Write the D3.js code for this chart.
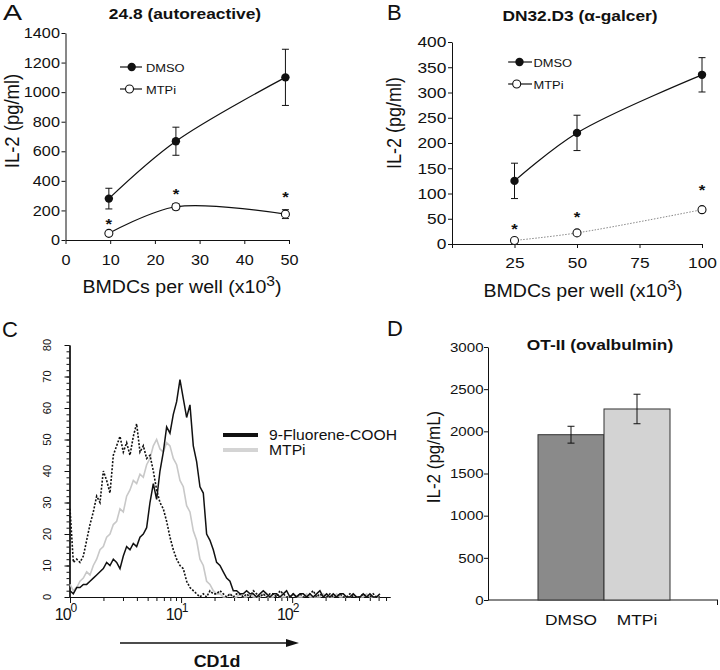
<!DOCTYPE html>
<html>
<head>
<meta charset="utf-8">
<title>IL-2 and CD1d panels</title>
<script src="https://cdn.jsdelivr.net/npm/d3@7/dist/d3.min.js"></script>
<style>
  body { margin: 0; background: #fff; }
</style>
</head>
<body>
<div id="chart"></div>
<script>
// ---------- data ----------

// A: 24.8 (autoreactive)
const aDoses = [9.7, 24.7, 49.2];
const aDmso = [280, 668, 1100];
const aDmsoErr = [70, 95, 190];
const aMtpi = [45, 225, 175];
const aMtpiErr = [12, 20, 30];
const aStars = [135, 340, 318];
const aXTicks = [0, 10, 20, 30, 40, 50];
const aYTicks = [0, 200, 400, 600, 800, 1000, 1200, 1400];

// B: DN32.D3 (alpha-galcer)
const bDoses = [25, 50, 100];
const bDmso = [125, 220, 335];
const bDmsoErr = [35, 35, 34];
const bMtpi = [7, 22, 68];
const bStars = [38, 61, 114];
const bXTicks = [0, 25, 50, 75, 100];
const bYTicks = [0, 50, 100, 150, 200, 250, 300, 350, 400];

// C: CD1d histograms (channel position in log10 units, counts)
const cdLog = [0, 0.03, 0.06, 0.09, 0.12, 0.15, 0.18, 0.21, 0.24, 0.27,
  0.3, 0.33, 0.36, 0.39, 0.42, 0.45, 0.48, 0.51, 0.54, 0.57,
  0.6, 0.63, 0.66, 0.69, 0.72, 0.75, 0.78, 0.81, 0.84, 0.87,
  0.9, 0.93, 0.96, 0.99, 1.02, 1.05, 1.08, 1.11, 1.14, 1.17,
  1.2, 1.23, 1.26, 1.29, 1.32, 1.35, 1.38, 1.41, 1.44, 1.47,
  1.5, 1.53, 1.56, 1.59, 1.62, 1.65, 1.68, 1.71, 1.74, 1.77,
  1.8, 1.83, 1.86, 1.89, 1.92, 1.95, 1.98, 2.01, 2.04, 2.07,
  2.1, 2.13, 2.16, 2.19, 2.22, 2.25, 2.28, 2.31, 2.34, 2.37,
  2.4, 2.43, 2.46, 2.49, 2.52, 2.55, 2.58, 2.61, 2.64, 2.67,
  2.7, 2.73, 2.76, 2.79];
const cdIsotype = [28, 11, 12, 11, 13, 18, 23, 27, 32, 30,
  40, 37, 33, 45, 48, 51, 46, 49, 45, 51,
  55, 46, 48, 44, 45, 40, 34, 30, 28, 24,
  19, 15, 12, 10, 9, 5, 3, 2, 1, 0,
  1, 0, 2, 1, 1, 2, 1, 0, 1, 0,
  1, 1, 0, 1, 0, 2, 1, 0, 1, 0,
  1, 1, 0, 2, 1, 0, 0, 1, 0, 1,
  0, 0, 1, 2, 0, 1, 0, 0, 1, 0,
  0, 1, 0, 0, 1, 0, 0, 0, 1, 0,
  0, 1, 0, 0];
const cdFluorene = [2, 1, 3, 3, 4, 4, 5, 6, 7, 8,
  9, 11, 10, 12, 11, 9, 13, 16, 15, 17,
  16, 19, 20, 22, 30, 36, 31, 40, 46, 54,
  52, 58, 62, 69, 63, 57, 61, 48, 43, 35,
  33, 20, 18, 15, 11, 10, 8, 6, 5, 2,
  2, 1, 1, 2, 1, 1, 0, 1, 2, 1,
  0, 1, 1, 0, 1, 2, 0, 1, 0, 1,
  1, 0, 1, 0, 1, 2, 0, 1, 0, 1,
  0, 1, 1, 0, 0, 1, 0, 0, 1, 0,
  1, 0, 0, 1];
const cdMtpi = [4, 2, 3, 5, 6, 8, 7, 10, 12, 15,
  16, 19, 20, 23, 24, 28, 27, 32, 34, 37,
  36, 39, 38, 42, 44, 48, 50, 47, 46, 49,
  48, 44, 42, 37, 35, 29, 27, 21, 18, 12,
  10, 5, 4, 2, 1, 1, 0, 0, 1, 0,
  0, 1, 0, 0, 1, 0, 0, 0, 1, 0,
  0, 0, 1, 0, 0, 0, 0, 1, 0, 0,
  0, 1, 0, 0, 0, 0, 1, 0, 0, 0,
  1, 0, 0, 0, 0, 1, 0, 0, 0, 1,
  0, 0, 0, 0];
const cdYTicks = [0, 10, 20, 30, 40, 50, 60, 70, 80];
const cdDecades = [1, 10, 100];
const cdDecadeExp = ["0", "1", "2"];

// D: OT-II (ovalbulmin)
const dGroups = ["DMSO", "MTPi"];
const dValues = [1960, 2265];
const dErr = [100, 175];
const dYTicks = [0, 500, 1000, 1500, 2000, 2500, 3000];

// ---------- setup ----------
const FONT = '"Liberation Sans", Arial, Helvetica, sans-serif';
const SX = 1.12;   // the scanned figure is a bit wider than tall
const INK = "#111";
const plain = d3.format("d");

const svg = d3.select("#chart").append("svg")
  .attr("width", 720)
  .attr("height", 670)
  .style("font-family", FONT);

// text with the slight horizontal stretch of the source
function label(x, y, str, size, o = {}) {
  const sx = o.sx || SX;
  return svg.append("text")
    .attr("transform", `translate(${x},${y}) scale(${sx},1)` + (o.rot ? ` rotate(${o.rot})` : ""))
    .attr("font-size", size)
    .attr("font-weight", o.bold ? "bold" : "normal")
    .attr("text-anchor", o.anchor || "middle")
    .attr("fill", o.fill || INK)
    .text(str);
}

function supLabel(x, y, base, sup, tail, size, supSize, lift, o = {}) {
  const t = label(x, y, "", size, o);
  t.append("tspan").text(base);
  t.append("tspan").attr("font-size", supSize).attr("dy", -lift).text(sup);
  if (tail) t.append("tspan").attr("dy", lift).text(tail);
  return t;
}

function styleAxis(g, size) {
  g.attr("font-family", FONT).attr("font-size", size);
  g.selectAll("path, line").attr("stroke", INK).attr("stroke-width", 1);
  g.selectAll("text").attr("fill", INK).attr("transform", `scale(${SX},1)`);
}

// ---------- A and B: dose curves ----------
function dosePanel(p) {
  const x = d3.scaleLinear().domain(p.xDomain).range(p.xRange);
  const y = d3.scaleLinear().domain(p.yDomain).range(p.yRange);

  svg.append("g")
    .attr("transform", `translate(0,${p.yRange[0]})`)
    .call(d3.axisBottom(x).tickValues(p.xTicks).tickSize(4).tickSizeOuter(0)
      .tickPadding(p.xPad).tickFormat(d => p.xLabels ? p.xLabels(d) : plain(d)))
    .call(g => styleAxis(g, p.tickSize));

  svg.append("g")
    .attr("transform", `translate(${p.xRange[0]},0)`)
    .call(d3.axisLeft(y).tickValues(p.yTicks).tickSize(4).tickSizeOuter(0)
      .tickPadding(1).tickFormat(plain))
    .call(g => styleAxis(g, p.tickSize));

  const line = d3.line()
    .x((d, i) => x(p.doses[i]))
    .y(d => y(d))
    .curve(d3.curveCatmullRom.alpha(0.5));

  svg.append("path").attr("d", line(p.dmso))
    .attr("fill", "none").attr("stroke", INK).attr("stroke-width", 1.2);
  svg.append("path").attr("d", line(p.mtpi))
    .attr("fill", "none")
    .attr("stroke", p.mtpiDotted ? "#888" : INK)
    .attr("stroke-width", p.mtpiDotted ? 1 : 1.2)
    .attr("stroke-dasharray", p.mtpiDotted ? "1.5,1.5" : null);

  // error bars
  const bars = [];
  p.doses.forEach((d, i) => {
    bars.push([d, p.dmso[i], p.dmsoErr[i]]);
    if (p.mtpiErr) bars.push([d, p.mtpi[i], p.mtpiErr[i]]);
  });
  bars.forEach(([d, v, e]) => {
    const cxp = x(d);
    svg.append("line").attr("x1", cxp).attr("x2", cxp)
      .attr("y1", y(v - e)).attr("y2", y(v + e)).attr("stroke", INK);
    [v - e, v + e].forEach(c => {
      svg.append("line").attr("x1", cxp - 3.5).attr("x2", cxp + 3.5)
        .attr("y1", y(c)).attr("y2", y(c)).attr("stroke", INK);
    });
  });

  // markers
  svg.selectAll(null).data(p.dmso).enter().append("circle")
    .attr("cx", (d, i) => x(p.doses[i])).attr("cy", d => y(d)).attr("r", 4.2)
    .attr("fill", INK);
  svg.selectAll(null).data(p.mtpi).enter().append("circle")
    .attr("cx", (d, i) => x(p.doses[i])).attr("cy", d => y(d)).attr("r", 4)
    .attr("fill", "#fff").attr("stroke", INK).attr("stroke-width", 1.1);

  // significance stars
  p.stars.forEach((s, i) => label(x(p.doses[i]), y(s) + 9, "*", 15, { bold: true }));

  // legend
  const lg = p.legend;
  svg.append("line").attr("x1", lg.x1).attr("x2", lg.x2).attr("y1", lg.y1).attr("y2", lg.y1)
    .attr("stroke", INK).attr("stroke-width", 1.2);
  svg.append("circle").attr("cx", lg.m1).attr("cy", lg.y1).attr("r", 4.2).attr("fill", INK);
  label(lg.tx, lg.y1 + 5, "DMSO", 11.5, { anchor: "start" });
  svg.append("line").attr("x1", lg.x1).attr("x2", lg.x2).attr("y1", lg.y2).attr("y2", lg.y2)
    .attr("stroke", INK).attr("stroke-width", 1.2);
  svg.append("circle").attr("cx", lg.m2).attr("cy", lg.y2).attr("r", 4)
    .attr("fill", "#fff").attr("stroke", INK).attr("stroke-width", 1.1);
  label(lg.tx, lg.y2 + 5, "MTPi", 11.5, { anchor: "start" });

  // titles
  label(p.title.x, p.title.y, p.title.text, 15.5, { bold: true });
  supLabel(p.xTitle.x, p.xTitle.y, "BMDCs per well (x10", "3", ")", 17.5, 14, 7);
  label(p.yTitle.x, p.yTitle.y, "IL-2 (pg/ml)", p.yTitle.size, { rot: -90 });
}

dosePanel({
  xDomain: [0, 50], xRange: [65.5, 289], yDomain: [0, 1400], yRange: [240, 33],
  xTicks: aXTicks, yTicks: aYTicks, tickSize: 14.5, xPad: 11,
  doses: aDoses, dmso: aDmso, dmsoErr: aDmsoErr, mtpi: aMtpi, mtpiErr: aMtpiErr,
  stars: aStars,
  legend: { x1: 120, x2: 142, y1: 67, y2: 89, m1: 131.7, m2: 129.5, tx: 146 },
  title: { x: 185, y: 19, text: "24.8 (autoreactive)" },
  xTitle: { x: 182, y: 293 },
  yTitle: { x: 19, y: 121, size: 18.5 }
});

dosePanel({
  xDomain: [0, 100], xRange: [452, 702], yDomain: [0, 400], yRange: [244, 42],
  xTicks: bXTicks, yTicks: bYTicks, tickSize: 15.5, xPad: 9,
  xLabels: d => d === 0 ? "" : d,
  doses: bDoses, dmso: bDmso, dmsoErr: bDmsoErr, mtpi: bMtpi, mtpiErr: null,
  mtpiDotted: true, stars: bStars,
  legend: { x1: 508, x2: 532, y1: 62, y2: 84, m1: 519.5, m2: 516.7, tx: 533.5 },
  title: { x: 580, y: 21, text: "DN32.D3 (\u03B1-galcer)" },
  xTitle: { x: 583, y: 297 },
  yTitle: { x: 401, y: 123, size: 18 }
});

// ---------- C: CD1d histograms ----------
const cx = d3.scaleLog().domain([1, 760]).range([70, 390]);
const cy = d3.scaleLinear().domain([0, 80]).range([597, 345]);

const minorX = [];
cdDecades.forEach(dec => [2, 3, 4, 5, 6, 7, 8, 9].forEach(k => { if (dec * k <= 760) minorX.push(dec * k); }));

svg.append("g").attr("transform", "translate(0,597)")
  .call(d3.axisBottom(cx).tickValues(minorX).tickSize(4).tickSizeOuter(0).tickFormat(""))
  .call(g => styleAxis(g, 11));
svg.append("g").attr("transform", "translate(0,597)")
  .call(d3.axisBottom(cx).tickValues(cdDecades).tickSize(6).tickSizeOuter(0).tickFormat(""))
  .call(g => styleAxis(g, 11));

const minorY = d3.range(0, 81, 2);
svg.append("g").attr("transform", "translate(69.5,0)")
  .call(d3.axisLeft(cy).tickValues(minorY).tickSize(3).tickSizeOuter(0).tickFormat(""))
  .call(g => styleAxis(g, 11));
svg.append("g").attr("transform", "translate(69.5,0)")
  .call(d3.axisLeft(cy).tickValues(cdYTicks).tickSize(5).tickSizeOuter(0).tickFormat(""))
  .call(g => styleAxis(g, 11))
  .call(g => g.select(".domain").attr("stroke-width", 1.5));

cdYTicks.forEach(v => label(51, cy(v), String(v), 11, { rot: -90, sx: 1 }));
cdDecades.forEach((v, i) => {
  const t = svg.append("text")
    .attr("transform", `translate(${cx(v) - 4},620)`)
    .attr("font-size", 16).attr("text-anchor", "middle").attr("fill", INK);
  t.append("tspan").attr("font-size", 16).style("letter-spacing", "-1px").text("10");
  t.append("tspan").attr("font-size", 12).attr("dy", -8).text(cdDecadeExp[i]);
});

const histLine = d3.line()
  .x((d, i) => cx(Math.pow(10, cdLog[i])))
  .y(d => cy(d));

svg.append("path").attr("d", histLine(cdMtpi))
  .attr("fill", "none").attr("stroke", "#c8c8c8").attr("stroke-width", 1.6);
svg.append("path").attr("d", histLine(cdIsotype))
  .attr("fill", "none").attr("stroke", INK).attr("stroke-width", 1.6)
  .attr("stroke-dasharray", "2,1.6");
svg.append("path").attr("d", histLine(cdFluorene))
  .attr("fill", "none").attr("stroke", INK).attr("stroke-width", 1.5);

// legend
svg.append("line").attr("x1", 223).attr("x2", 258).attr("y1", 435).attr("y2", 435)
  .attr("stroke", INK).attr("stroke-width", 4);
svg.append("line").attr("x1", 223).attr("x2", 258).attr("y1", 450).attr("y2", 450)
  .attr("stroke", "#d4d4d4").attr("stroke-width", 4);
label(269, 440, "9-Fluorene-COOH", 14, { anchor: "start" });
label(269, 455, "MTPi", 14, { anchor: "start" });

// arrow and axis name
svg.append("line").attr("x1", 120).attr("x2", 290).attr("y1", 643).attr("y2", 643)
  .attr("stroke", INK).attr("stroke-width", 1.5);
svg.append("path").attr("d", "M286,639 L299,643 L286,647 Z").attr("fill", INK);
label(217, 667, "CD1d", 16, { bold: true });

// ---------- D: OT-II bars ----------
const dy = d3.scaleLinear().domain([0, 3000]).range([600, 347]);
const dx = d3.scaleBand().domain(dGroups).range([538, 670]).padding(0);
const dFill = { DMSO: "#8a8a8a", MTPi: "#d3d3d3" };

svg.append("g").attr("transform", "translate(488,0)")
  .call(d3.axisLeft(dy).tickValues(dYTicks).tickSize(4).tickSizeOuter(0)
    .tickPadding(0).tickFormat(plain))
  .call(g => styleAxis(g, 13.5));
svg.append("line").attr("x1", 488).attr("x2", 718).attr("y1", 600).attr("y2", 600)
  .attr("stroke", INK);
svg.append("line").attr("x1", 717.5).attr("x2", 717.5).attr("y1", 600).attr("y2", 605)
  .attr("stroke", INK);

svg.selectAll(null).data(dGroups).enter().append("rect")
  .attr("x", d => dx(d))
  .attr("y", (d, i) => dy(dValues[i]))
  .attr("width", dx.bandwidth())
  .attr("height", (d, i) => dy(0) - dy(dValues[i]))
  .attr("fill", d => dFill[d])
  .attr("stroke", "#333").attr("stroke-width", 1);

dGroups.forEach((g, i) => {
  const mx = dx(g) + dx.bandwidth() / 2;
  const lo = dValues[i] - dErr[i], hi = dValues[i] + dErr[i];
  svg.append("line").attr("x1", mx).attr("x2", mx).attr("y1", dy(lo)).attr("y2", dy(hi))
    .attr("stroke", INK);
  [lo, hi].forEach(c => svg.append("line").attr("x1", mx - 3.5).attr("x2", mx + 3.5)
    .attr("y1", dy(c)).attr("y2", dy(c)).attr("stroke", INK));
  label(mx, 625, g, 15.5);
});

label(600, 350, "OT-II (ovalbulmin)", 15.5, { bold: true });
label(440, 457, "IL-2 (pg/mL)", 17, { rot: -90 });

// ---------- panel letters ----------
label(3, 20, "A", 22, { anchor: "start", sx: 1.3 });
label(387, 20, "B", 22, { anchor: "start", sx: 1 });
label(2, 337, "C", 22, { anchor: "start", sx: 1 });
label(387, 336, "D", 22, { anchor: "start", sx: 1 });
</script>
</body>
</html>
